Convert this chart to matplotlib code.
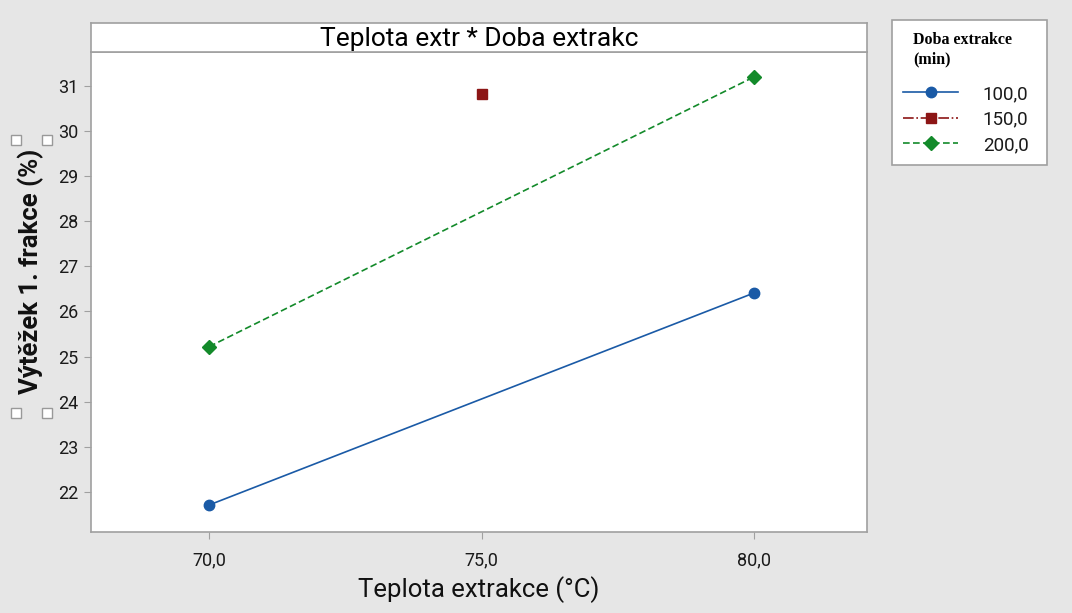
import numpy as np
import matplotlib.pyplot as plt
from matplotlib.patches import Rectangle

# Interaction plot data: mean yield per temperature for each extraction time
temperature = [70, 75, 80]
yield_100 = [21.71, None, 26.41]
yield_150 = [None, 30.82, None]
yield_200 = [25.22, None, 31.20]
times = ['100,0', '150,0', '200,0']

BG = '#e6e6e6'
GRID = '#a0a0a0'
BLUE = '#1a5aa6'
RED = '#8c1515'
GREEN = '#138a2a'

plt.rcParams['font.family'] = ['Roboto', 'DejaVu Sans']

fig = plt.figure(figsize=(10.72, 6.13), dpi=100, facecolor=BG)
ax = fig.add_axes([91/1072, 1-532/613, 776/1072, 480/613])
ax.set_facecolor('white')

def series(vals):
    x = [t for t, v in zip(temperature, vals) if v is not None]
    y = [v for v in vals if v is not None]
    return x, y

x1, y1 = series(yield_100)
x2, y2 = series(yield_150)
x3, y3 = series(yield_200)
ax.plot(x1, y1, color=BLUE, lw=1.2, ls='-', marker='o', ms=7.5, label=times[0])
ax.plot(x2, y2, color=RED, lw=1.2, ls='-.', marker='s', ms=7.5, label=times[1])
ax.plot(x3, y3, color=GREEN, lw=1.2, ls=(0, (4, 2)), marker='D', ms=7, label=times[2])

ax.set_xlim(67.83, 82.07)
ax.set_ylim(21.11, 31.75)
ax.set_xticks([70, 75, 80])
ax.set_xticklabels(['70,0', '75,0', '80,0'])
ax.set_yticks(range(22, 32))
ax.tick_params(direction='out', length=5, color=GRID, labelsize=13, labelcolor='#1a1a1a', pad=4)
ax.tick_params(axis='x', pad=9)
for s in ax.spines.values():
    s.set_color(GRID)
    s.set_linewidth(1.2)

ax.set_xlabel('Teplota extrakce (°C)', fontsize=18.5, color='#111111', labelpad=5)
ax.set_ylabel('Výtěžek 1. frakce (%)', fontsize=18.5, fontweight='bold', color='#111111')
ax.yaxis.set_label_coords(-0.06, 0.542)

# header strip above the panel
hx = fig.add_axes([91/1072, 1-52/613, 776/1072, 29/613])
hx.set_facecolor('white')
hx.set_xticks([])
hx.set_yticks([])
for s in hx.spines.values():
    s.set_color(GRID)
    s.set_linewidth(1.2)
hx.text(0.5, 0.45, 'Teplota extr * Doba extrakc', ha='center', va='center', fontsize=19, transform=hx.transAxes)

# selection handles around the y label
for hxp, hyp in [(16, 140), (47, 140), (16, 413), (47, 413)]:
    fig.patches.append(Rectangle(((hxp-5)/1072, 1-(hyp+5)/613), 10/1072, 10/613,
                                 transform=fig.transFigure, facecolor='white',
                                 edgecolor='#999999', lw=1))

# legend panel with a serif bold header
fig.patches.append(Rectangle((892/1072, 1-165/613), 155/1072, 145/613,
                             transform=fig.transFigure, facecolor='white',
                             edgecolor=GRID, lw=1.2))
fig.text(913/1072, 1-50/613, 'Doba extrakce\n(min)', ha='left', va='center',
         family='Liberation Serif', weight='bold', fontsize=11.5, linespacing=1.25)

leg = fig.legend(loc='upper left', bbox_to_anchor=(903/1072, 1-85/613), borderaxespad=0,
                 borderpad=0, fontsize=13.5, handlelength=2.95, handletextpad=1.3,
                 labelspacing=0.4, frameon=False)
for t in leg.get_texts():
    t.set_color('#1a1a1a')

plt.savefig('out.png', dpi=100, facecolor=BG)
